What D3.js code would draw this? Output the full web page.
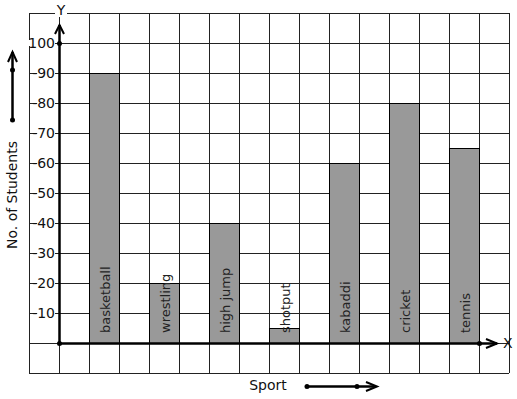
<!DOCTYPE html>
<html>
<head>
<meta charset="utf-8">
<script src="https://cdn.jsdelivr.net/npm/d3@7"></script>
<style>
  body { margin: 0; background: #fff; }
  text { font-family: "DejaVu Sans", sans-serif; }
</style>
</head>
<body>
<script>
const sports = ['basketball', 'wrestling', 'high jump', 'shotput', 'kabaddi', 'cricket', 'tennis'];
const students = [90, 20, 40, 5, 60, 80, 65];
const yTicks = [10, 20, 30, 40, 50, 60, 70, 80, 90, 100];

const WIDTH = 517, HEIGHT = 399;
const GRID_COLS = 16;
const INK = '#000';

const svg = d3.select('body').append('svg')
    .attr('width', WIDTH)
    .attr('height', HEIGHT);

// grid columns: 30px squares from x=29 to x=509
const col = d3.scaleLinear().domain([0, GRID_COLS]).range([29, 509]);
const y = d3.scaleLinear().domain([0, 100]).range([343, 43]);
const barCol = i => 2 + i * 2;

// Grid
const grid = svg.append('g').attr('stroke', '#222').attr('stroke-width', 1);
d3.range(0, GRID_COLS + 1).forEach(c => {
    grid.append('line')
        .attr('x1', col(c) + 0.5).attr('x2', col(c) + 0.5)
        .attr('y1', y(110)).attr('y2', y(-10));
});
d3.range(-10, 111, 10).forEach(v => {
    grid.append('line')
        .attr('x1', col(0)).attr('x2', col(GRID_COLS))
        .attr('y1', y(v) + 0.5).attr('y2', y(v) + 0.5);
});

// Bars
const bars = svg.append('g');
sports.forEach((s, i) => {
    bars.append('rect')
        .attr('x', col(barCol(i)) + 0.5)
        .attr('y', y(students[i]) + 0.5)
        .attr('width', col(1) - col(0))
        .attr('height', y(0) - y(students[i]))
        .attr('fill', '#999')
        .attr('stroke', INK)
        .attr('stroke-width', 1);
});

// Bar labels
sports.forEach((s, i) => {
    const cx = col(barCol(i) + 0.5) + 0.5;
    bars.append('text')
        .attr('transform', `translate(${cx + 5},${y(0) - 10}) rotate(-90)`)
        .attr('font-size', 13)
        .attr('fill', '#222')
        .text(s);
});

// Y tick labels with white background
const yLab = svg.append('g');
yTicks.forEach(v => {
    const label = v === 100 ? '100' : '-' + v;
    const t = yLab.append('text')
        .attr('x', 55)
        .attr('y', y(v) + 5)
        .attr('text-anchor', 'end')
        .attr('font-size', 14)
        .attr('fill', '#111')
        .text(label);
    const bb = t.node().getBBox();
    yLab.insert('rect', () => t.node())
        .attr('x', bb.x + (v === 100 ? 0 : 5)).attr('y', y(v) - 3)
        .attr('width', bb.width - (v === 100 ? 0 : 5)).attr('height', 6)
        .attr('fill', '#fff');
});

// Axes
const axes = svg.append('g').attr('stroke', INK).attr('fill', 'none').attr('stroke-width', 2.5);
axes.append('line').attr('x1', col(1) + 0.5).attr('x2', col(1) + 0.5).attr('y1', y(0)).attr('y2', 25);
axes.append('path').attr('d', `M${col(1) - 4},34 L${col(1) + 0.5},25 L${col(1) + 5},34`).attr('stroke-width', 2);
axes.append('line').attr('x1', col(1)).attr('x2', 497).attr('y1', y(0) + 0.5).attr('y2', y(0) + 0.5);
axes.append('path').attr('d', `M486,${y(0) - 4} L497,${y(0) + 0.5} L486,${y(0) + 5}`).attr('stroke-width', 2);

const dots = svg.append('g').attr('fill', INK);
dots.append('circle').attr('cx', col(1) + 0.5).attr('cy', y(0) + 0.5).attr('r', 2.5);
dots.append('circle').attr('cx', col(1) + 0.5).attr('cy', y(100) + 0.5).attr('r', 2.5);
dots.append('circle').attr('cx', col(15) + 0.5).attr('cy', y(0) + 0.5).attr('r', 2.5);

// Axis letters
svg.append('rect').attr('x', 55).attr('y', 9).attr('width', 12).attr('height', 8).attr('fill', '#fff');
svg.append('text').attr('x', 61).attr('y', 15).attr('text-anchor', 'middle')
    .attr('font-size', 14).attr('fill', '#111').text('Y');
svg.append('text').attr('x', 503).attr('y', y(0) + 5)
    .attr('font-size', 14).attr('fill', '#111').text('X');

// Axis titles
svg.append('text')
    .attr('transform', `translate(17,195) rotate(-90)`)
    .attr('text-anchor', 'middle')
    .attr('font-size', 14).attr('fill', '#111')
    .text('No. of Students');
svg.append('text')
    .attr('x', 268).attr('y', 390)
    .attr('text-anchor', 'middle')
    .attr('font-size', 14).attr('fill', '#111')
    .text('Sport');

// Direction arrows
const dir = svg.append('g').attr('stroke', INK).attr('fill', 'none').attr('stroke-width', 2.5);
dir.append('line').attr('x1', 12.5).attr('x2', 12.5).attr('y1', 120).attr('y2', 52);
dir.append('path').attr('d', 'M8,62 L12.5,52 L17,62').attr('stroke-width', 2);
dir.append('line').attr('x1', 307).attr('x2', 376).attr('y1', 386.5).attr('y2', 386.5);
dir.append('path').attr('d', 'M366,382 L377,386.5 L366,391').attr('stroke-width', 2);
dots.append('circle').attr('cx', 12.5).attr('cy', 120).attr('r', 2.5);
dots.append('circle').attr('cx', 12.5).attr('cy', 70).attr('r', 2.5);
dots.append('circle').attr('cx', 307).attr('cy', 386.5).attr('r', 2.5);
dots.append('circle').attr('cx', 357).attr('cy', 386.5).attr('r', 2.5);
</script>
</body>
</html>
